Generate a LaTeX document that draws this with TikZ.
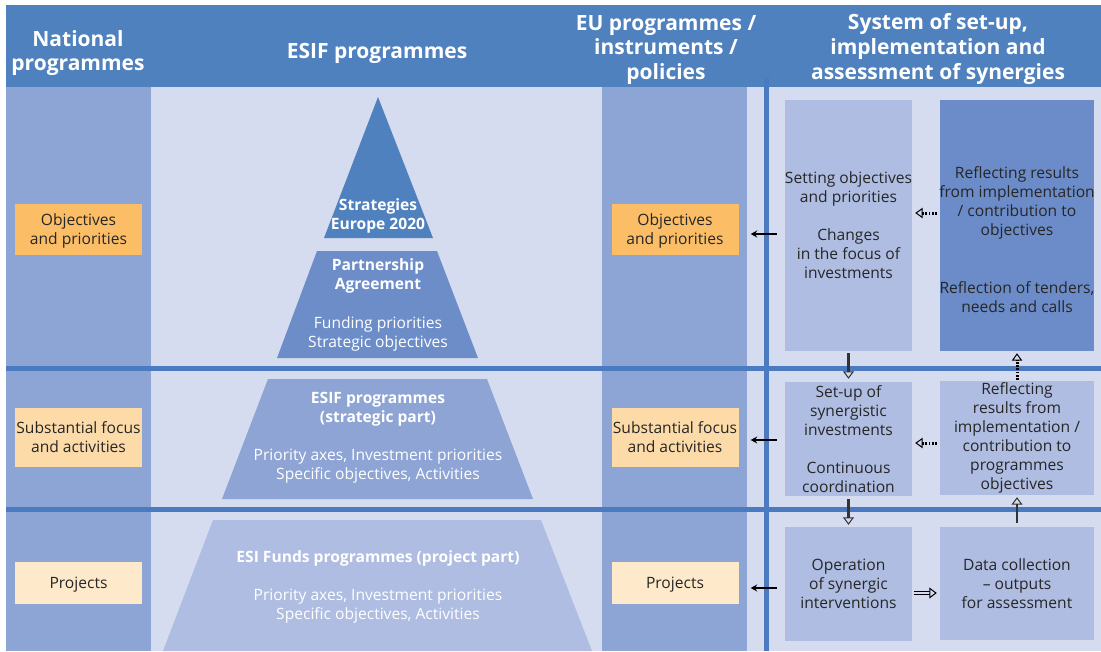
\documentclass[tikz,border=0pt]{standalone}
\usepackage{fontspec}
\setmainfont{Open Sans}
\usetikzlibrary{arrows.meta,calc}

\definecolor{headblue}{HTML}{4F81BF}
\definecolor{linblue}{HTML}{4A7BC0}
\definecolor{bodybg}{HTML}{D5DCEF}
\definecolor{colbg}{HTML}{8DA5D5}
\definecolor{pyrA}{HTML}{4F81BF}
\definecolor{pyrB}{HTML}{6D8DC9}
\definecolor{pyrC}{HTML}{8DA4D4}
\definecolor{pyrD}{HTML}{AEBDE1}
\definecolor{boxlight}{HTML}{AEBDE1}
\definecolor{boxdark}{HTML}{6B8CC8}
\definecolor{orangeA}{HTML}{FBBE67}
\definecolor{orangeB}{HTML}{FDDBA9}
\definecolor{orangeC}{HTML}{FEEACB}

\begin{document}
\begin{tikzpicture}[x=1pt,y=-1pt,
    every node/.style={font=\fontsize{15.6}{19}\selectfont, align=center, inner sep=0pt, text=black!85},
    headtxt/.style={text=white, font=\fontsize{21}{24.8}\selectfont\bfseries},
    pyrbold/.style={text=white, font=\fontsize{15.6}{19}\selectfont\bfseries},
    pyrtxt/.style={text=white},
    tag/.style={minimum width=127pt, text depth=0pt},
    sbox/.style={minimum width=127pt, fill=boxlight},
    wbox/.style={minimum width=154pt, fill=boxlight},
    rowline/.style={draw=linblue, line width=5pt},
    leftarr/.style={draw=black, line width=1.5pt, -{Stealth[length=6.5pt,width=7pt]}},
    dotarr/.style={draw=black, line width=3pt, dash pattern=on 1.8pt off 1.4pt,
        -{Triangle[open,length=7.5pt,width=10.5pt,line width=1pt]}},
    holarr/.style={draw=black!80, line width=2.4pt,
        -{Triangle[open,length=7.5pt,width=11pt,line width=1pt]}},
    dblarr/.style={draw=black, line width=1pt, double=bodybg, double distance=2.6pt,
        -{Triangle[open,length=7.5pt,width=11pt,line width=1pt]}}]

\useasboundingbox (0,0) rectangle (1101,651);
\fill[white] (0,0) rectangle (1101,651);

% background and columns
\fill[headblue] (6,5) rectangle (1101,87);
\fill[bodybg] (6,87) rectangle (1101,651);
\fill[colbg] (6,87) rectangle (151,651);
\fill[colbg] (602,87) rectangle (747,651);

% pyramid
\fill[pyrA] (378,97) -- (433,238) -- (324,238) -- cycle;
\fill[pyrB] (317,251) -- (437,251) -- (478,358) -- (277,358) -- cycle;
\fill[pyrC] (268,379) -- (487,379) -- (533,499) -- (222,499) -- cycle;
\fill[pyrD] (213,520) -- (541,520) -- (592,651) -- (163,651) -- cycle;

\draw[rowline] (6,368.5) -- (1101,368.5);
\draw[rowline] (6,509.5) -- (1101,509.5);
\draw[rowline] (766.5,77) -- (766.5,651);

% headers
\node[headtxt] (hnat) at (78,53) {National\\programmes};
\node[headtxt] (hesif) at (377,53) {ESIF programmes};
\node[headtxt] (heu) at (666,50) {EU programmes /\\instruments /\\policies};
\node[headtxt] (hsys) at (938,49) {System of set-up,\\implementation and\\assessment of synergies};

% pyramid texts
\node[pyrbold] (tstrat) at (378,216) {Strategies\\Europe 2020};
\node[pyrbold] (tpart) at (378,276) {Partnership\\Agreement};
\node[pyrtxt] (tfund) at (378,334) {Funding priorities\\Strategic objectives};
\node[pyrbold] (tesif) at (378,409) {ESIF programmes\\(strategic part)};
\node[pyrtxt] (taxesA) at (378,466) {Priority axes, Investment priorities\\Specific objectives, Activities};
\node[pyrbold] (tfunds) at (378,558) {ESI Funds programmes (project part)};
\node[pyrtxt] (taxesB) at (378,606) {Priority axes, Investment priorities\\Specific objectives, Activities};

% national and EU tags
\node[tag, fill=orangeA, minimum height=51pt] (natobj) at (78.5,229.5) {Objectives\\and priorities};
\node[tag, fill=orangeB, minimum height=59pt] (natfoc) at (78.5,437.5) {Substantial focus\\and activities};
\node[tag, fill=orangeC, minimum height=42pt] (natproj) at (78.5,583) {Projects};
\node[tag, fill=orangeA, minimum height=51pt] (euobj) at (675,229.5) {Objectives\\and priorities};
\node[tag, fill=orangeB, minimum height=59pt] (eufoc) at (675,437.5) {Substantial focus\\and activities};
\node[tag, fill=orangeC, minimum height=42pt] (euproj) at (675,583) {Projects};

% synergy boxes
\node[sbox, minimum height=251pt] (setobj) at (848.5,225.5)
    {Setting objectives\\and priorities\\[19pt]Changes\\in the focus of\\investments};
\node[wbox, fill=boxdark, minimum height=251pt] (reflobj) at (1017,225.5) {};
\node (reflobjtxt) at (1017,240)
    {Reflecting results\\from implementation\\/ contribution to\\objectives\\[39pt]Reflection of tenders,\\needs and calls};
\node[sbox, minimum height=114pt] (setup) at (848.5,439)
    {Set-up of\\synergistic\\investments\\[19pt]Continuous\\coordination};
\node[wbox, minimum height=114pt] (reflprog) at (1017,438)
    {Reflecting\\results from\\implementation /\\contribution to\\programmes\\objectives};
\node[sbox, minimum height=114pt] (oper) at (848.5,584) {Operation\\of synergic\\interventions};
\node[wbox, minimum height=113pt] (datacol) at (1017,583.5) {Data collection\\– outputs\\for assessment};

% arrows
\draw[leftarr, shorten <=8pt, shorten >=12pt] (setobj.west |- 0,234) -- (euobj.east |- 0,234);
\draw[leftarr, shorten <=8pt, shorten >=12pt] (setup.west |- 0,440) -- (eufoc.east |- 0,440);
\draw[leftarr, shorten <=8pt, shorten >=12pt] (oper.west |- 0,588) -- (euproj.east |- 0,588);
\draw[dotarr, shorten <=3pt, shorten >=3pt] (reflobj.west |- 0,213) -- (setobj.east |- 0,213);
\draw[dotarr, shorten <=3pt, shorten >=3pt] (reflprog.west |- 0,443) -- (setup.east |- 0,443);
\draw[holarr, shorten <=2pt, shorten >=3pt] (setobj.south) -- (setup.north);
\draw[holarr, shorten <=3pt, shorten >=2pt] (setup.south) -- (oper.north);
\draw[dotarr, shorten <=1pt, shorten >=2pt] (reflprog.north) -- (reflobj.south);
\draw[holarr, shorten <=4pt, shorten >=2pt] (datacol.north) -- (reflprog.south);
\draw[dblarr, shorten <=2pt, shorten >=3pt] (oper.east |- 0,593) -- (datacol.west |- 0,593);
\end{tikzpicture}
\end{document}
